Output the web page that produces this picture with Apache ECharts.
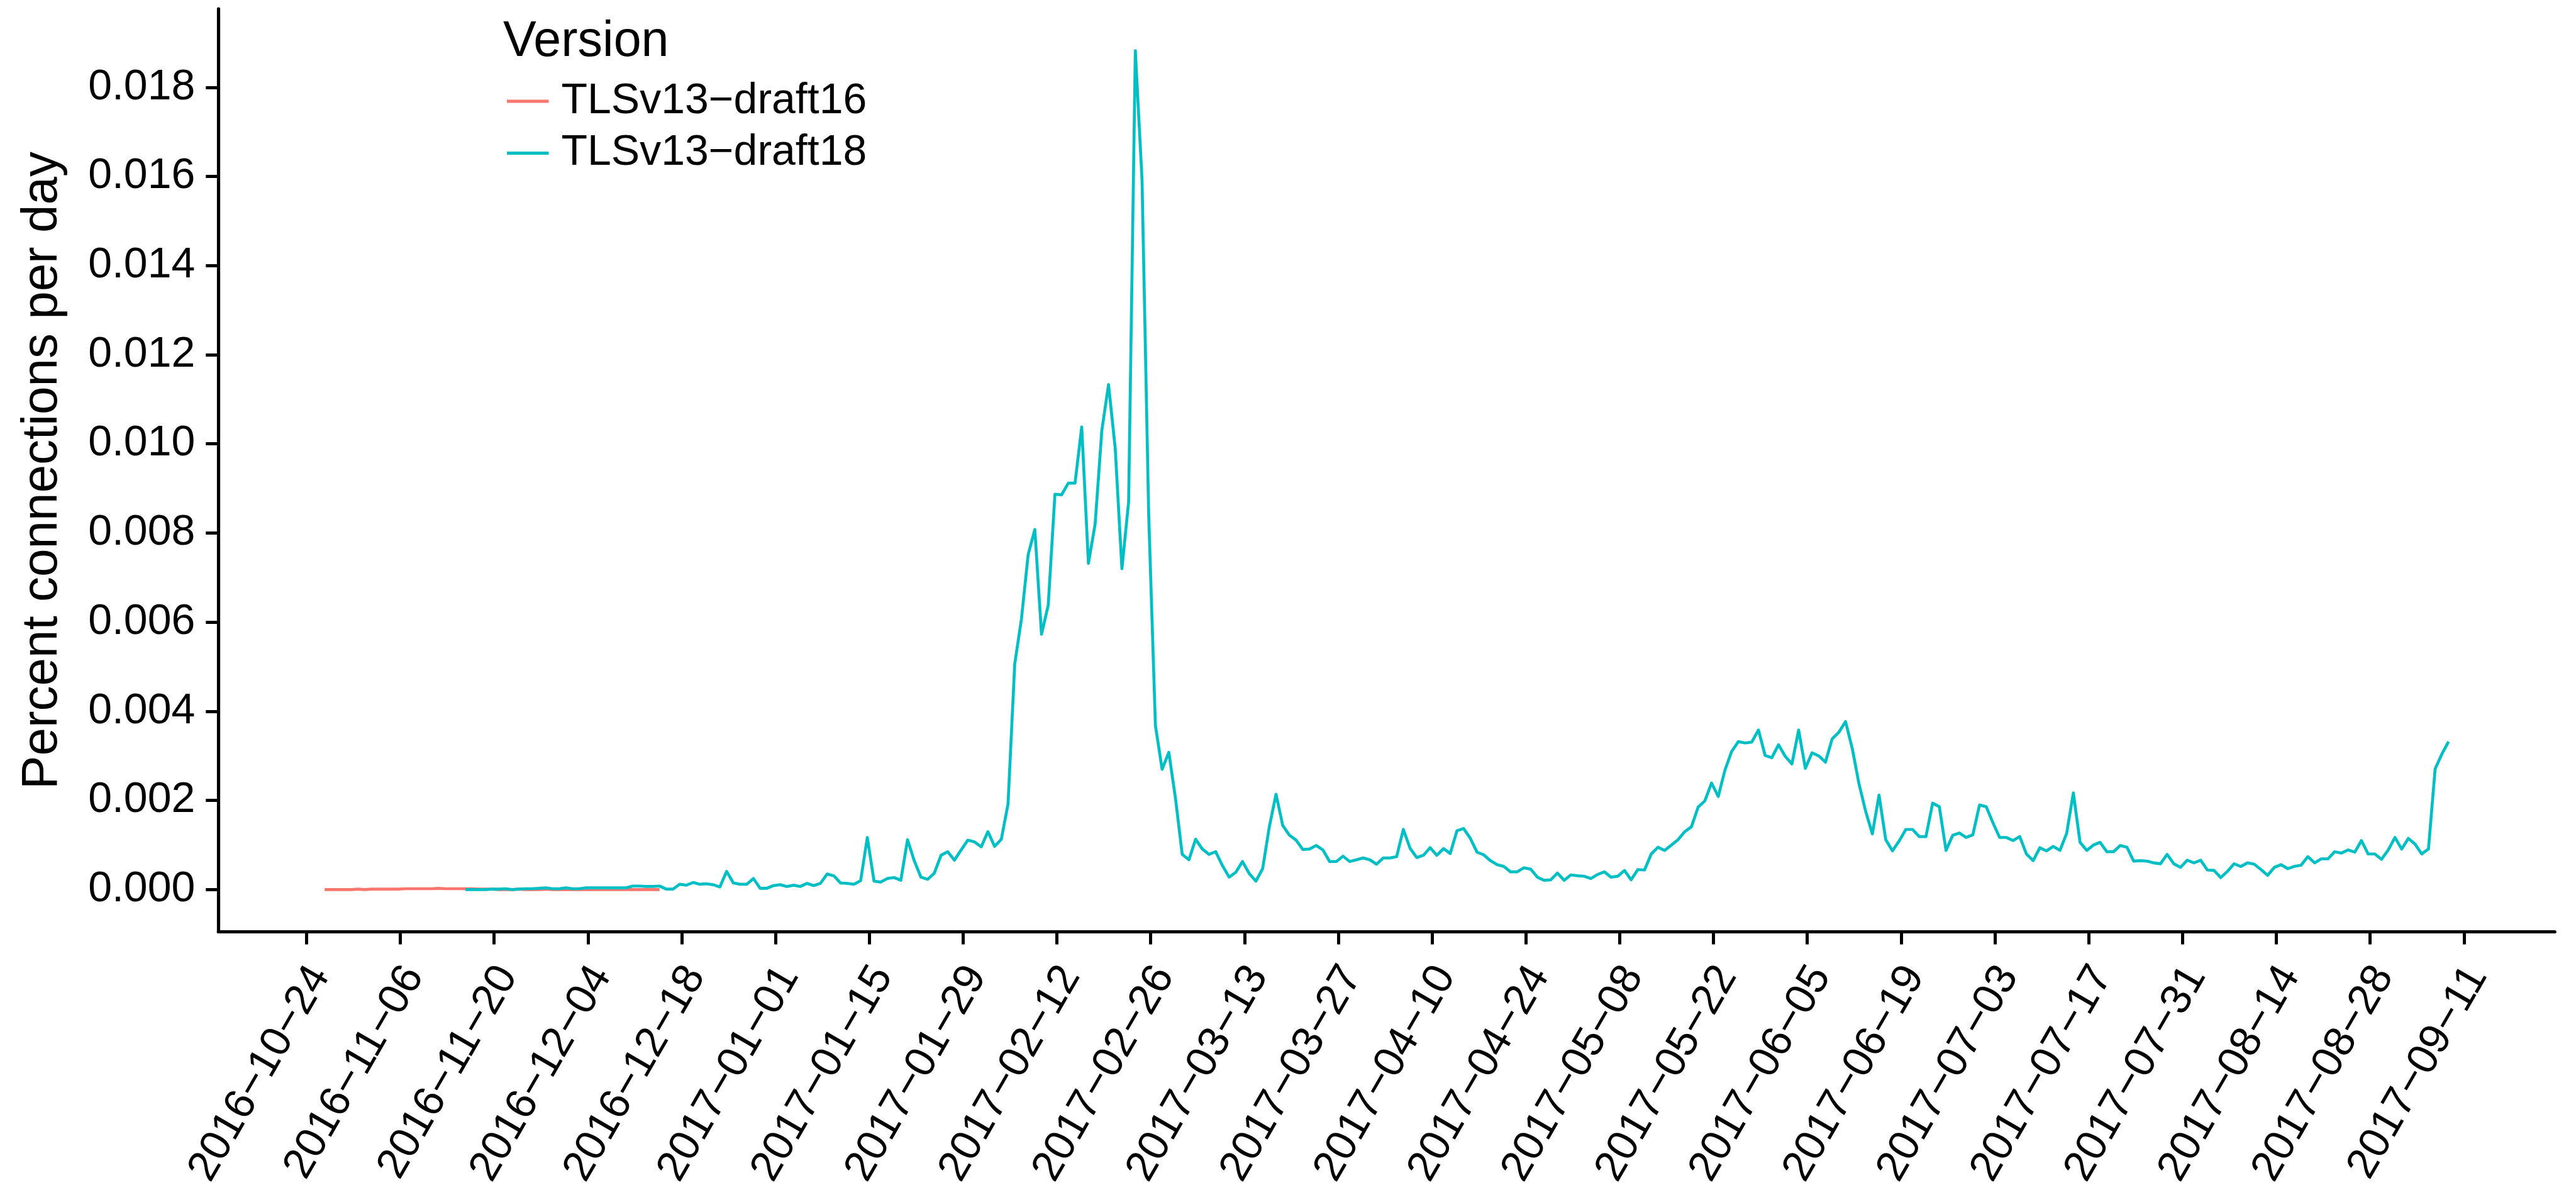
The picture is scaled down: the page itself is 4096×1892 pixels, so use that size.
<!DOCTYPE html>
<html>
<head>
<meta charset="utf-8">
<title>TLS 1.3 draft versions</title>
<script src="https://cdn.jsdelivr.net/npm/echarts@6/dist/echarts.min.js"></script>
<style>
  html, body { margin: 0; padding: 0; background: #ffffff; }
  #chart { width: 4096px; height: 1892px; }
</style>
</head>
<body>
<div id="chart"></div>
<script>
// Tick labels: one tick every 14 days from 2016-10-24 00:00 US Pacific,
// labelled with the Pacific calendar date (DST shifts show as 13/15-day gaps).
const tickLabels = [
  '2016−10−24', '2016−11−06', '2016−11−20', '2016−12−04', '2016−12−18',
  '2017−01−01', '2017−01−15', '2017−01−29', '2017−02−12', '2017−02−26',
  '2017−03−13', '2017−03−27', '2017−04−10', '2017−04−24', '2017−05−08',
  '2017−05−22', '2017−06−05', '2017−06−19', '2017−07−03', '2017−07−17',
  '2017−07−31', '2017−08−14', '2017−08−28', '2017−09−11'
];
const yTickValues = [0, 0.002, 0.004, 0.006, 0.008, 0.010, 0.012, 0.014, 0.016, 0.018];
const seriesNames = ['TLSv13−draft16', 'TLSv13−draft18'];
const seriesColors = ['#F8766D', '#00BFC4'];

// Daily share of connections (UTC days), draft16 from 2016-10-27
const draft16Start = '2016-10-27';
const draft16 = [
  0.00000, 0.00000, 0.00000, 0.00000, 0.00000, 0.00001, 0.00000, 0.00001, 0.00001, 0.00001,
  0.00001, 0.00001, 0.00002, 0.00002, 0.00002, 0.00002, 0.00002, 0.00003, 0.00002, 0.00002,
  0.00002, 0.00002, 0.00002, 0.00001, 0.00001, 0.00001, 0.00000, 0.00000, 0.00000, 0.00001,
  0.00000, 0.00000, 0.00000, 0.00001, 0.00000, 0.00000, 0.00000, 0.00000, 0.00000, 0.00000,
  0.00000, 0.00000, 0.00000, 0.00000, 0.00000, 0.00000, 0.00000, 0.00000, 0.00000, 0.00000,
  0.00000
];

// Daily share of connections (UTC days), draft18 from 2016-11-17
const draft18Start = '2016-11-17';
const draft18 = [
  0.00000, 0.00000, 0.00000, 0.00000, 0.00001, 0.00001, 0.00002, 0.00000, 0.00001, 0.00002,
  0.00002, 0.00003, 0.00004, 0.00002, 0.00002, 0.00004, 0.00002, 0.00002, 0.00004, 0.00004,
  0.00004, 0.00004, 0.00004, 0.00004, 0.00004, 0.00008, 0.00008, 0.00007, 0.00007, 0.00008,
  0.00001, 0.00001, 0.00012, 0.00010, 0.00016, 0.00012, 0.00013, 0.00011, 0.00006, 0.00041,
  0.00015, 0.00012, 0.00012, 0.00025, 0.00003, 0.00003, 0.00009, 0.00011, 0.00007, 0.00010,
  0.00007, 0.00014, 0.00009, 0.00014, 0.00035, 0.00031, 0.00015, 0.00014, 0.00012, 0.00020,
  0.00117, 0.00019, 0.00017, 0.00025, 0.00027, 0.00021, 0.00112, 0.00065, 0.00028, 0.00023,
  0.00037, 0.00077, 0.00085, 0.00066, 0.00089, 0.00111, 0.00107, 0.00096, 0.00130, 0.00097,
  0.00113, 0.00192, 0.00506, 0.00607, 0.00751, 0.00808, 0.00573, 0.00638, 0.00887, 0.00886,
  0.00912, 0.00912, 0.01038, 0.00732, 0.00820, 0.01030, 0.01133, 0.00990, 0.00720, 0.00870,
  0.01882, 0.01593, 0.00839, 0.00368, 0.00270, 0.00308, 0.00204, 0.00079, 0.00067, 0.00113,
  0.00091, 0.00079, 0.00085, 0.00054, 0.00028, 0.00039, 0.00063, 0.00036, 0.00019, 0.00047,
  0.00141, 0.00214, 0.00144, 0.00122, 0.00111, 0.00090, 0.00091, 0.00099, 0.00089, 0.00063,
  0.00063, 0.00075, 0.00063, 0.00067, 0.00071, 0.00067, 0.00057, 0.00071, 0.00071, 0.00074,
  0.00135, 0.00093, 0.00072, 0.00077, 0.00094, 0.00077, 0.00092, 0.00081, 0.00132, 0.00137,
  0.00115, 0.00084, 0.00078, 0.00065, 0.00056, 0.00052, 0.00040, 0.00040, 0.00049, 0.00046,
  0.00028, 0.00021, 0.00022, 0.00037, 0.00021, 0.00033, 0.00031, 0.00030, 0.00025, 0.00034,
  0.00040, 0.00028, 0.00030, 0.00043, 0.00022, 0.00045, 0.00044, 0.00080, 0.00095, 0.00088,
  0.00100, 0.00112, 0.00130, 0.00141, 0.00185, 0.00199, 0.00239, 0.00209, 0.00268, 0.00310,
  0.00332, 0.00329, 0.00331, 0.00358, 0.00301, 0.00296, 0.00325, 0.00299, 0.00282, 0.00358,
  0.00272, 0.00307, 0.00300, 0.00286, 0.00338, 0.00353, 0.00377, 0.00317, 0.00238, 0.00176,
  0.00125, 0.00212, 0.00112, 0.00087, 0.00109, 0.00135, 0.00135, 0.00119, 0.00119, 0.00194,
  0.00186, 0.00088, 0.00122, 0.00127, 0.00117, 0.00123, 0.00190, 0.00186, 0.00150, 0.00117,
  0.00117, 0.00110, 0.00119, 0.00080, 0.00065, 0.00094, 0.00087, 0.00097, 0.00088, 0.00126,
  0.00217, 0.00106, 0.00088, 0.00100, 0.00106, 0.00085, 0.00085, 0.00099, 0.00095, 0.00064,
  0.00065, 0.00064, 0.00060, 0.00058, 0.00079, 0.00058, 0.00050, 0.00066, 0.00060, 0.00066,
  0.00044, 0.00043, 0.00027, 0.00041, 0.00058, 0.00052, 0.00060, 0.00057, 0.00045, 0.00032,
  0.00050, 0.00056, 0.00047, 0.00052, 0.00055, 0.00074, 0.00060, 0.00069, 0.00069, 0.00085,
  0.00082, 0.00089, 0.00084, 0.00110, 0.00080, 0.00080, 0.00068, 0.00089, 0.00117, 0.00091,
  0.00115, 0.00102, 0.00080, 0.00091, 0.00271, 0.00304, 0.00332
];

// ---- scales: x in days since the first tick (2016-10-24 00:00 PDT = 07:00 UTC)
const DAY = 86400000;
const tickOrigin = Date.UTC(2016, 9, 24, 7);
function toPoints(start, values) {
  const [y, m, d] = start.split('-').map(Number);
  const t = Date.UTC(y, m - 1, d);
  return values.map((v, i) => [(t + i * DAY - tickOrigin) / DAY, v]);
}
const pts16 = toPoints(draft16Start, draft16);
const pts18 = toPoints(draft18Start, draft18);
const allPts = pts16.concat(pts18);
const xs = allPts.map(p => p[0]);
const ys = allPts.map(p => p[1]);
const xLo = Math.min(...xs), xHi = Math.max(...xs);
const yLo = Math.min(...ys), yHi = Math.max(...ys);
// 5% padding on each side of the data range
const xPad = 0.05 * (xHi - xLo);
const yPad = 0.05 * (yHi - yLo);
const tickDays = tickLabels.map((_, i) => i * 14);

const FONT = '"Liberation Sans", Arial, Helvetica, sans-serif';
const black = '#000000';

const chart = echarts.init(document.getElementById('chart'), null, { renderer: 'canvas' });
chart.setOption({
  animation: false,
  backgroundColor: '#ffffff',
  grid: { left: 347.3, right: 33.8, top: 14, bottom: 401, containLabel: false },
  xAxis: {
    type: 'value',
    min: xLo - xPad,
    max: xHi + xPad,
    splitLine: { show: false },
    axisLine: { show: true, onZero: false, lineStyle: { color: black, width: 5.2 } },
    axisTick: { show: true, customValues: tickDays, length: 20.5, lineStyle: { color: black, width: 5 } },
    axisLabel: {
      customValues: tickDays,
      interval: 0,
      rotate: 60,
      align: 'right',
      verticalAlign: 'top',
      lineHeight: 50,
      margin: 48,
      fontSize: 68,
      fontFamily: FONT,
      color: black,
      formatter: v => tickLabels[Math.round(v / 14)]
    }
  },
  yAxis: {
    type: 'value',
    min: yLo - yPad,
    max: yHi + yPad,
    splitLine: { show: false },
    axisLine: { show: true, onZero: false, lineStyle: { color: black, width: 5.2 } },
    axisTick: { show: true, customValues: yTickValues, length: 20, lineStyle: { color: black, width: 5 } },
    axisLabel: {
      customValues: yTickValues,
      margin: 37,
      fontSize: 68,
      fontFamily: FONT,
      color: black,
      formatter: v => v.toFixed(3)
    }
  },
  legend: {
    orient: 'vertical',
    left: 806,
    top: 127,
    padding: 0,
    itemGap: 14.4,
    itemWidth: 66.5,
    itemHeight: 5,
    icon: 'rect',
    selectedMode: false,
    textStyle: { fontSize: 68, lineHeight: 68, fontFamily: FONT, color: black, padding: [0, 0, 0, 15] },
    data: seriesNames
  },
  graphic: [
    {
      type: 'text',
      x: 800,
      y: 67,
      silent: true,
      style: { text: 'Version', fontSize: 79, fontFamily: FONT, fill: black, align: 'left', verticalAlign: 'middle' }
    },
    {
      type: 'text',
      x: 68,
      y: 748,
      rotation: Math.PI / 2,
      silent: true,
      style: { text: 'Percent connections per day', fontSize: 80, fontFamily: FONT, fill: black, align: 'center', verticalAlign: 'middle' }
    }
  ],
  series: [
    {
      name: seriesNames[0],
      type: 'line',
      data: pts16,
      showSymbol: false,
      symbol: 'none',
      silent: true,
      itemStyle: { color: seriesColors[0] },
      lineStyle: { color: seriesColors[0], width: 4.7, join: 'round', cap: 'butt' },
      z: 2
    },
    {
      name: seriesNames[1],
      type: 'line',
      data: pts18,
      showSymbol: false,
      symbol: 'none',
      silent: true,
      itemStyle: { color: seriesColors[1] },
      lineStyle: { color: seriesColors[1], width: 4.7, join: 'round', cap: 'butt' },
      z: 3
    }
  ]
});
</script>
</body>
</html>
